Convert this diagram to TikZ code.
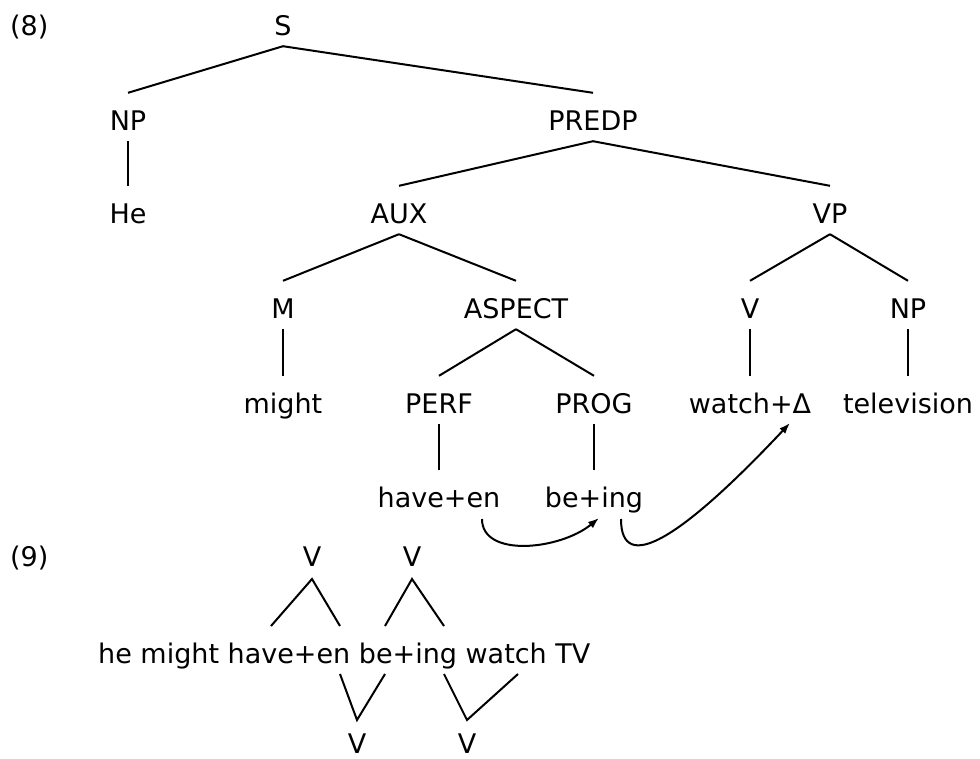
\documentclass[tikz,border=0pt]{standalone}
\usepackage{fontspec}
\setmainfont{DejaVu Sans}
\usetikzlibrary{arrows.meta}
\begin{document}
\begin{tikzpicture}[x=1pt,y=-1pt,
  lbl/.style={inner sep=0pt, text height=37pt, text depth=11pt, anchor=base, font=\fontsize{27}{27}\selectfont},
  txt/.style={inner sep=0pt, anchor=base west, font=\fontsize{27}{27}\selectfont},
  edge/.style={line width=2pt},
  mv/.style={line width=2pt, -{Latex[length=11pt,width=8pt]}}]
\useasboundingbox (0,0) rectangle (980,758);
% (8) tree
\node[txt] (ex8) at (10,35) {(8)};
\node[lbl] (S) at (283,35) {S};
\node[lbl] (NP) at (128,130) {NP};
\node[lbl] (PREDP) at (593,130) {PREDP};
\node[lbl] (He) at (128,223) {He};
\node[lbl] (AUX) at (399,223) {AUX};
\node[lbl] (VP) at (830,223) {VP};
\node[lbl] (M) at (283,318) {M};
\node[lbl] (ASPECT) at (516,318) {ASPECT};
\node[lbl] (V) at (750,318) {V};
\node[lbl] (NPb) at (908,318) {NP};
\node[lbl] (might) at (283,413) {might};
\node[lbl] (PERF) at (439,413) {PERF};
\node[lbl] (PROG) at (594,413) {PROG};
\node[lbl] (watch) at (750,413) {watch+Δ};
\node[lbl] (tv) at (908,413) {television};
\node[lbl] (haveen) at (439,507) {have+en};
\node[lbl] (being) at (594,507) {be+ing};
\foreach \a/\b in {S/NP,S/PREDP,NP/He,PREDP/AUX,PREDP/VP,AUX/M,AUX/ASPECT,VP/V,VP/NPb,M/might,ASPECT/PERF,ASPECT/PROG,V/watch,NPb/tv,PERF/haveen,PROG/being}
  \draw[edge] (\a.south) -- (\b.north);
\coordinate (h1) at (482,519);
\coordinate (b1) at (599,518);
\coordinate (b2) at (621,519);
\coordinate (w1) at (790,423);
\draw[mv] (h1) .. controls (482,558) and (560,550) .. (b1);
\draw[mv] (b2) .. controls (621,575) and (680,540) .. (w1);
% (9)
\node[txt] (ex9) at (10,566) {(9)};
\node[lbl] (Va) at (312,566) {V};
\node[lbl] (Vb) at (412,566) {V};
\node[txt] (sent) at (98,663) {he might have+en be+ing watch TV};
\node[lbl] (Vc) at (357,753) {V};
\node[lbl] (Vd) at (467,753) {V};
\coordinate (a1) at (271,626); \coordinate (a2) at (340,626);
\coordinate (c1) at (385,626); \coordinate (c2) at (444,626);
\coordinate (d1) at (340,674); \coordinate (d2) at (385,674);
\coordinate (e1) at (444,674); \coordinate (e2) at (518,674);
\coordinate (ta) at (312,579); \coordinate (tb) at (412,579);
\coordinate (bc) at (357,720); \coordinate (bd) at (467,720);
\draw[edge] (a1) -- (ta) -- (a2);
\draw[edge] (c1) -- (tb) -- (c2);
\draw[edge] (d1) -- (bc) -- (d2);
\draw[edge] (e1) -- (bd) -- (e2);
\end{tikzpicture}
\end{document}
